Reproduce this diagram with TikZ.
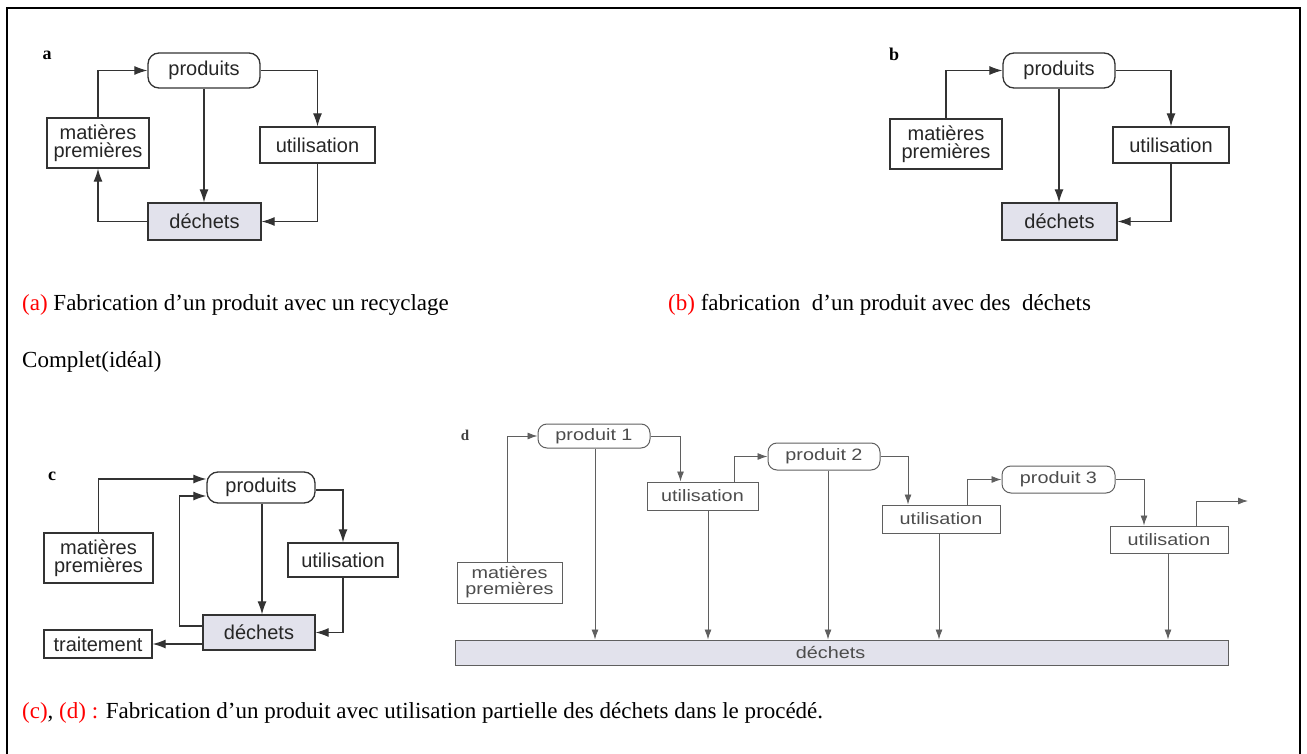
\documentclass[tikz,border=0pt]{standalone}
\usepackage{fontspec}
\setmainfont{Liberation Serif}
\newfontfamily\diagfont{Liberation Sans}
\newfontfamily\dfont[FakeStretch=1.2]{Liberation Sans}
\usetikzlibrary{arrows.meta}
\definecolor{wastefill}{RGB}{226,226,236}
\definecolor{dgray}{RGB}{95,95,95}
\begin{document}
\begin{tikzpicture}[x=1pt,y=-1pt,
 box/.style={draw=black!80,line width=1.3pt,inner sep=0pt,align=center,font=\diagfont\fontsize{20}{18.5}\selectfont,text=black!85},
 rbox/.style={box,rounded corners=11pt},
 waste/.style={box,fill=wastefill},
 sz/.style 2 args={minimum width=#1pt,minimum height=#2pt},
 arr/.style={draw=black!80,line width=1.1pt,-{Latex[length=13pt,width=9pt]}},
 dbox/.style={draw=dgray,line width=1pt,inner sep=0pt,align=center,font=\dfont\fontsize{16.5}{16}\selectfont,text=black!70},
 drbox/.style={dbox,rounded corners=9pt},
 dwaste/.style={dbox,fill=wastefill},
 darr/.style={draw=dgray,line width=0.9pt,-{Latex[length=10pt,width=7pt]}},
 plabel/.style={font=\bfseries\fontsize{18}{18}\selectfont,inner sep=0pt},
 captext/.style={font=\fontsize{23}{23}\selectfont,anchor=base west,inner sep=0pt}
]
\useasboundingbox (0,0) rectangle (1307,754);
\draw[line width=2pt] (7,760) -- (7,8) -- (1300,8) -- (1300,760);

% ---------- panel a ----------
\node[plabel] (la) at (47,55) {a};
\node[rbox,sz={112}{35}] (aP) at (204,70.5) {produits};
\node[box,sz={102}{50}] (aM) at (98,143) {matières\\premières};
\node[box,sz={115}{36}] (aU) at (317.5,145) {utilisation};
\node[waste,sz={113}{37}] (aD) at (204.5,221.5) {déchets};
\draw[arr] (aM.north) |- (aP.west);
\draw[arr] (aP.east) -| (aU.north);
\draw[arr] (aP.south) -- (aP.south |- aD.north);
\draw[arr] (aU.south) |- (aD.east);
\draw[arr] (aD.west) -| (aM.south);

% ---------- panel b ----------
\node[plabel] (lb) at (894,54) {b};
\node[rbox,sz={112}{35}] (bP) at (1059,70.5) {produits};
\node[box,sz={112}{50}] (bM) at (946,144) {matières\\premières};
\node[box,sz={116}{36}] (bU) at (1171,145) {utilisation};
\node[waste,sz={115}{37}] (bD) at (1059.5,221.5) {déchets};
\draw[arr] (bM.north) |- (bP.west);
\draw[arr] (bP.east) -| (bU.north);
\draw[arr] (bP.south) -- (bP.south |- bD.north);
\draw[arr] (bU.south) |- (bD.east);

% ---------- captions a, b ----------
\node[captext] (capa) at (22,310) {\textcolor{red}{(a)} Fabrication d’un produit avec un recyclage};
\node[captext] (capa2) at (22,367) {Complet(idéal)};
\node[captext] (capb) at (668,310) {\textcolor{red}{(b)} fabrication\ \ d’un produit avec des\ \ déchets};

% ---------- panel c ----------
\node[plabel] (lc) at (52,476) {c};
\node[rbox,sz={108}{31}] (cP) at (261,487.5) {produits};
\node[box,sz={109}{50}] (cM) at (98.5,558) {matières\\premières};
\node[box,sz={110}{34}] (cU) at (343,560) {utilisation};
\node[waste,sz={112}{35}] (cD) at (259,632.5) {déchets};
\node[box,sz={108}{28}] (cT) at (98,644) {traitement};
\draw[arr] (cM.north) |- ([yshift=8.5pt]cP.west);
\draw[arr] ([yshift=6.5pt]cD.west) -- ++(-23,0) |- ([yshift=-8.5pt]cP.west);
\draw[arr] ([yshift=-2.5pt]cP.east) -| (cU.north);
\draw[arr] ([xshift=1pt]cP.south) -- ([xshift=1pt]cP.south |- cD.north);
\draw[arr] (cU.south) |- (cD.east);
\draw[arr] (cD.west |- cT.east) -- (cT.east);

% ---------- panel d ----------
\node[plabel,text=black!75,font=\bfseries\fontsize{15}{15}\selectfont] (ld) at (465,435) {d};
\node[drbox,sz={112}{24}] (dP1) at (594,436) {produit 1};
\node[dbox,sz={111}{28}] (dU1) at (702.5,496) {utilisation};
\node[drbox,sz={112}{27}] (dP2) at (824,456.5) {produit 2};
\node[dbox,sz={118}{28}] (dU2) at (941,519) {utilisation};
\node[drbox,sz={113}{27}] (dP3) at (1058.5,479.5) {produit 3};
\node[dbox,sz={118}{27}] (dU3) at (1169,539.5) {utilisation};
\node[dbox,sz={105}{41}] (dM) at (509.5,582.5) {matières\\premières};
\node[dwaste,sz={773}{25}] (dD) at (841.5,652.5) {\hspace*{-22pt}déchets};
\draw[darr] ([xshift=-2pt]dM.north) |- (dP1.west);
\draw[darr] (dP1.east) -| ([xshift=-22pt]dU1.north);
\draw[darr] ([xshift=1pt]dP1.south) -- ([xshift=1pt]dP1.south |- dD.north);
\draw[darr] ([xshift=32pt]dU1.north) |- (dP2.west);
\draw[darr] ([xshift=5.5pt]dU1.south) -- ([xshift=5.5pt]dU1.south |- dD.north);
\draw[darr] ([xshift=4pt]dP2.south) -- ([xshift=4pt]dP2.south |- dD.north);
\draw[darr] (dP2.east) -| ([xshift=-33pt]dU2.north);
\draw[darr] ([xshift=26pt]dU2.north) |- (dP3.west);
\draw[darr] ([xshift=-2pt]dU2.south) -- ([xshift=-2pt]dU2.south |- dD.north);
\draw[darr] (dP3.east) -| ([xshift=-25pt]dU3.north);
\coordinate (dOut) at (1248,501);
\draw[darr] ([xshift=27pt]dU3.north) |- (dOut);
\draw[darr] ([xshift=-1pt]dU3.south) -- ([xshift=-1pt]dU3.south |- dD.north);

% ---------- caption c, d ----------
\node[captext] (capcd) at (22,718) {\textcolor{red}{(c)}, \textcolor{red}{(d) :} Fabrication d’un produit avec utilisation partielle des déchets dans le procédé.};
\end{tikzpicture}
\end{document}
